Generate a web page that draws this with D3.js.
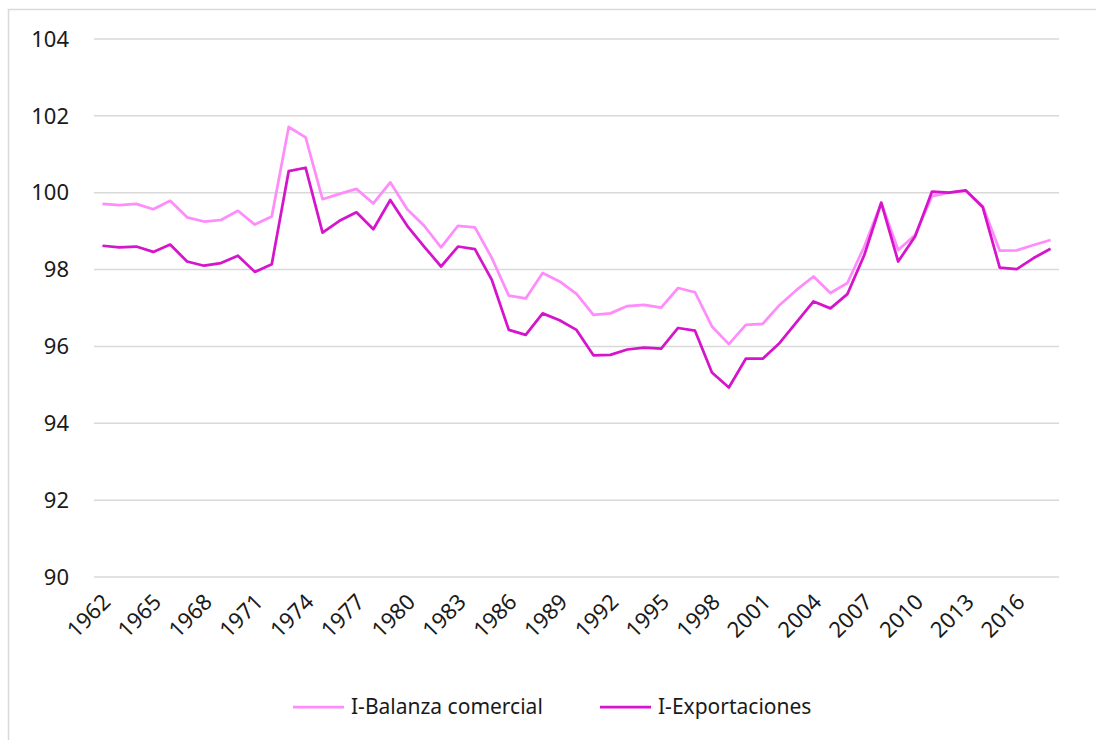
<!DOCTYPE html>
<html>
<head>
<meta charset="utf-8">
<script src="https://cdn.jsdelivr.net/npm/d3@7"></script>
<style>
  body { margin: 0; background: #fff; }
  text { font-family: "Noto Sans", sans-serif; fill: #1a1a1a; }
</style>
</head>
<body>
<script>
// years 1962..2018
const years = [];
for (let y = 1962; y <= 2018; y++) years.push(y);

// I-Balanza comercial
const balanza = [
  99.71, 99.68, 99.71, 99.57, 99.79, 99.36, 99.25, 99.29, 99.53, 99.17,
  99.38, 101.71, 101.44, 99.83, 99.97, 100.10, 99.72, 100.27, 99.57, 99.14,
  98.58, 99.14, 99.10, 98.30, 97.32, 97.25, 97.91, 97.69, 97.37, 96.82,
  96.86, 97.05, 97.08, 97.01, 97.52, 97.41, 96.52, 96.06, 96.56, 96.59,
  97.08, 97.47, 97.82, 97.39, 97.65, 98.60, 99.74, 98.51, 98.90, 99.91,
  100.00, 100.05, 99.65, 98.49, 98.50, 98.64, 98.77
];

// I-Exportaciones
const exportaciones = [
  98.62, 98.58, 98.60, 98.46, 98.65, 98.21, 98.10, 98.17, 98.36, 97.94,
  98.14, 100.56, 100.65, 98.96, 99.27, 99.49, 99.05, 99.81, 99.14, 98.60,
  98.08, 98.60, 98.53, 97.73, 96.43, 96.30, 96.86, 96.68, 96.43, 95.77,
  95.78, 95.92, 95.97, 95.94, 96.48, 96.41, 95.32, 94.93, 95.68, 95.68,
  96.09, 96.63, 97.17, 96.99, 97.36, 98.38, 99.74, 98.21, 98.86, 100.03,
  100.00, 100.06, 99.62, 98.05, 98.01, 98.30, 98.54
];

const yTicks = [90, 92, 94, 96, 98, 100, 102, 104];
const xTickYears = years.filter((d, i) => i % 3 === 0);

const series = [
  { name: "I-Balanza comercial", values: balanza, color: "#ff8cfb" },
  { name: "I-Exportaciones", values: exportaciones, color: "#d514cb" }
];

const width = 1096, height = 740;

const svg = d3.select("body").append("svg")
    .attr("width", width)
    .attr("height", height);

// chart border
svg.append("rect")
    .attr("x", 8.5).attr("y", 9.5)
    .attr("width", width).attr("height", height)
    .attr("fill", "none")
    .attr("stroke", "#d9d9d9")
    .attr("stroke-width", 1.5);

const x = d3.scalePoint()
    .domain(years)
    .range([94, 1059])
    .padding(0.5);

const y = d3.scaleLinear()
    .domain([90, 104])
    .range([577, 39]);

// gridlines
svg.append("g")
    .selectAll("line")
    .data(yTicks)
    .join("line")
    .attr("x1", 94).attr("x2", 1059)
    .attr("y1", d => y(d)).attr("y2", d => y(d))
    .attr("stroke", "#d9d9d9")
    .attr("stroke-width", 1.5);

// y labels
svg.append("g")
    .selectAll("text")
    .data(yTicks)
    .join("text")
    .attr("x", 69)
    .attr("y", d => y(d))
    .attr("dy", "0.35em")
    .attr("text-anchor", "end")
    .style("font-size", "22px")
    .text(d => d);

// x labels, rotated
svg.append("g")
    .selectAll("text")
    .data(xTickYears)
    .join("text")
    .attr("transform", d => "translate(" + (x(d) + 4) + ",598) rotate(-45)")
    .attr("text-anchor", "end")
    .attr("dy", "0.35em")
    .style("font-size", "22px")
    .text(d => d);

const line = d3.line()
    .x((d, i) => x(years[i]))
    .y(d => y(d));

svg.append("g")
    .selectAll("path")
    .data(series)
    .join("path")
    .attr("d", d => line(d.values))
    .attr("fill", "none")
    .attr("stroke", d => d.color)
    .attr("stroke-width", 2.75)
    .attr("stroke-linejoin", "round");

// legend
const legendX = [293, 600];
const legend = svg.append("g")
    .selectAll("g")
    .data(series)
    .join("g")
    .attr("transform", (d, i) => "translate(" + legendX[i] + ",707)");

legend.append("line")
    .attr("x1", 0).attr("x2", 51)
    .attr("stroke", d => d.color)
    .attr("stroke-width", 2.75);

legend.append("text")
    .attr("x", 58)
    .attr("dy", "0.35em")
    .style("font-size", "21px")
    .text(d => d.name);
</script>
</body>
</html>
